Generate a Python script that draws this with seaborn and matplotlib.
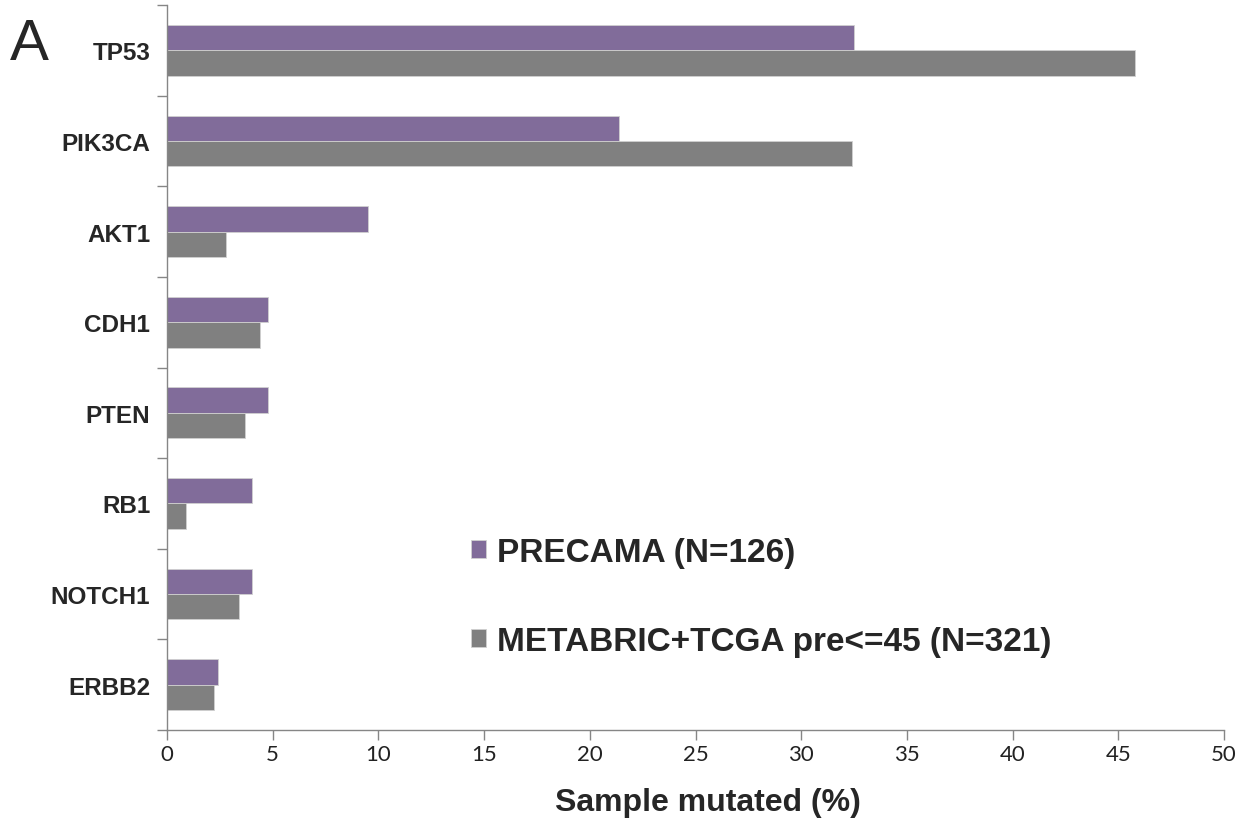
import pandas as pd
import matplotlib.pyplot as plt
import seaborn as sns
from matplotlib.ticker import MultipleLocator, FixedLocator

# mutated samples (%) per gene
genes = ['TP53', 'PIK3CA', 'AKT1', 'CDH1', 'PTEN', 'RB1', 'NOTCH1', 'ERBB2']
precama = [32.5, 21.4, 9.5, 4.8, 4.8, 4.0, 4.0, 2.4]
metabric = [45.8, 32.4, 2.8, 4.4, 3.7, 0.9, 3.4, 2.2]
groups = ['PRECAMA (N=126)', 'METABRIC+TCGA pre<=45 (N=321)']
colors = ['#8064A2', '#808080']

df = pd.DataFrame({
    'gene': genes * 2,
    'pct': precama + metabric,
    'group': [groups[0]] * len(genes) + [groups[1]] * len(genes),
})

sns.set_style('white')
plt.rcParams['font.family'] = ['Liberation Sans', 'DejaVu Sans']

fig = plt.figure(figsize=(12.57, 8.20), dpi=100)
ax = fig.add_axes([167 / 1257, 1 - 731 / 820, (1224 - 167) / 1257, (731 - 6) / 820])

sns.barplot(data=df, y='gene', x='pct', hue='group', order=genes, hue_order=groups,
            palette=colors, orient='h', width=0.56, edgecolor='#d0d0d0', linewidth=0.6,
            ax=ax)

ax.set_xlim(0, 50)
ax.set_ylim(len(genes) - 0.5, -0.5)
ax.xaxis.set_major_locator(MultipleLocator(5))
ax.tick_params(axis='x', bottom=True, length=7, width=1, color='#868686', direction='out',
               labelsize=16, pad=3, labelcolor='#222222')
for lab in ax.get_xticklabels():
    lab.set_family(['Lato', 'DejaVu Sans'])

# tick marks between categories, labels at centres
ax.set_yticks(range(len(genes)))
ax.set_yticklabels(genes, fontweight='bold')
ax.yaxis.set_minor_locator(FixedLocator([i - 0.5 for i in range(len(genes) + 1)]))
ax.tick_params(axis='y', which='major', left=True, length=0, pad=12, labelsize=17.5)
ax.tick_params(axis='y', which='minor', left=True, length=7, width=1, color='#868686',
               direction='out')

for side in ['top', 'right']:
    ax.spines[side].set_visible(False)
for side in ['left', 'bottom']:
    ax.spines[side].set_color('#868686')
    ax.spines[side].set_linewidth(1)

ax.set_ylabel('')
ax.set_xlabel('Sample mutated (%)', fontsize=23, fontweight='bold')
ax.xaxis.set_label_coords(0.512, -0.079)

handles, labels = ax.get_legend_handles_labels()
ax.legend(handles, labels, loc='center left', bbox_to_anchor=(454 / 1257, 1 - 598 / 820),
          bbox_transform=fig.transFigure, frameon=False, borderpad=0,
          prop={'size': 24, 'weight': 'bold'}, handlelength=0.45, handleheight=0.45,
          handletextpad=0.35, labelspacing=1.75)

fig.text(10 / 1257, 1 - 60 / 820, 'A', fontsize=42)

plt.savefig('out.png', dpi=100)
